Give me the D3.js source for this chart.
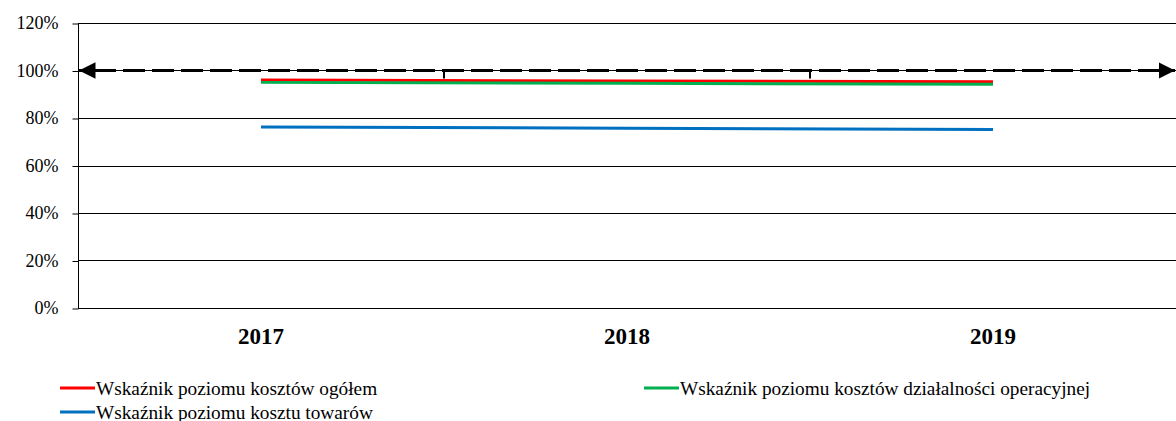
<!DOCTYPE html>
<html><head><meta charset="utf-8">
<script src="https://cdn.jsdelivr.net/npm/d3@7"></script>
<style>
html,body{margin:0;padding:0;background:#fff;}
svg{display:block;font-family:"Liberation Serif","Times New Roman",serif;}
</style></head>
<body><svg id="chart" width="1176" height="421"></svg>
<script>
const categories = ["2017", "2018", "2019"];
const seriesNames = ["Wskaźnik poziomu kosztów ogółem", "Wskaźnik poziomu kosztów działalności operacyjnej", "Wskaźnik poziomu kosztu towarów"];
const seriesColors = ["#FF0000", "#00B050", "#0070C0"];
const totalCosts = [0.96, 0.956, 0.953];
const operatingCosts = [0.95, 0.946, 0.942];
const goodsCosts = [0.762, 0.757, 0.752];
const yTicks = [0, 0.2, 0.4, 0.6, 0.8, 1.0, 1.2];
const refLevel = 1.0;

const series = [totalCosts, operatingCosts, goodsCosts];
const svg = d3.select("#chart");
const m = {left: 78, right: 0, top: 23, bottom: 113};
const W = 1176, H = 421;
const x = d3.scaleBand().domain(categories).range([m.left, W - m.right]);
const y = d3.scaleLinear().domain([0, 1.2]).range([H - m.bottom, m.top]);

// gridlines
svg.append("g").selectAll("line").data(yTicks).join("line")
  .attr("x1", m.left).attr("x2", W).attr("y1", d => Math.round(y(d)) + 0.5).attr("y2", d => Math.round(y(d)) + 0.5)
  .attr("stroke", "#000").attr("stroke-width", 1);

// y axis
const yAxis = d3.axisLeft(y).tickValues(yTicks).tickFormat(d3.format(".0%")).tickSize(6).tickPadding(14);
const ya = svg.append("g").attr("transform", `translate(${m.left + 0.5},0)`).call(yAxis);
ya.select(".domain").attr("d", `M0,${m.top}V${H - m.bottom}`).attr("stroke", "#000");
ya.selectAll(".tick line").attr("stroke", "#000").attr("transform", "translate(0,0.5)");
ya.selectAll("text").attr("font-size", 18).attr("fill", "#000").attr("font-family", "Liberation Serif");

// x labels
svg.append("g").selectAll("text").data(categories).join("text")
  .attr("x", d => x(d) + x.bandwidth() / 2).attr("y", 344)
  .attr("text-anchor", "middle").attr("font-weight", "bold").attr("font-size", 23)
  .text(d => d);

// reference dashed line with arrows
const defs = svg.append("defs");
defs.append("marker").attr("id", "arrEnd").attr("viewBox", "0 0 10 10").attr("refX", 10).attr("refY", 5)
  .attr("markerWidth", 5.5).attr("markerHeight", 5.5).attr("markerUnits", "strokeWidth").attr("orient", "auto")
  .append("path").attr("d", "M0,0L10,5L0,10Z").attr("fill", "#000");
defs.append("marker").attr("id", "arrStart").attr("viewBox", "0 0 10 10").attr("refX", 0).attr("refY", 5)
  .attr("markerWidth", 5.5).attr("markerHeight", 5.5).attr("markerUnits", "strokeWidth").attr("orient", "auto")
  .append("path").attr("d", "M10,0L0,5L10,10Z").attr("fill", "#000");
const ry = y(refLevel);
svg.append("line").attr("x1", m.left + 1).attr("x2", W - 1).attr("y1", ry).attr("y2", ry)
  .attr("stroke", "#000").attr("stroke-width", 3).attr("stroke-dasharray", "22,7").attr("stroke-dashoffset", 14)
  .attr("marker-start", "url(#arrStart)").attr("marker-end", "url(#arrEnd)");
// small drop ticks at category boundaries
svg.append("g").selectAll("line").data(categories.slice(1)).join("line")
  .attr("x1", d => x(d)).attr("x2", d => x(d)).attr("y1", ry).attr("y2", ry + 8)
  .attr("stroke", "#000").attr("stroke-width", 2);

// series lines
const line = d3.line().x((d, i) => x(categories[i]) + x.bandwidth() / 2).y(d => y(d));
svg.append("g").selectAll("path").data(series).join("path")
  .attr("d", d => line(d)).attr("fill", "none")
  .attr("stroke", (d, i) => seriesColors[i]).attr("stroke-width", 3);

// legend
const legPos = [[60, 388], [644, 388], [60, 412]];
const leg = svg.append("g").selectAll("g").data(seriesNames).join("g")
  .attr("transform", (d, i) => `translate(${legPos[i][0]},${legPos[i][1]})`);
leg.append("line").attr("x1", 0).attr("x2", 35).attr("y1", 0).attr("y2", 0)
  .attr("stroke", (d, i) => seriesColors[i]).attr("stroke-width", 3);
leg.append("text").attr("x", 36).attr("y", 7).attr("font-size", 19.3).attr("fill", "#000").text(d => d);
</script></body></html>
